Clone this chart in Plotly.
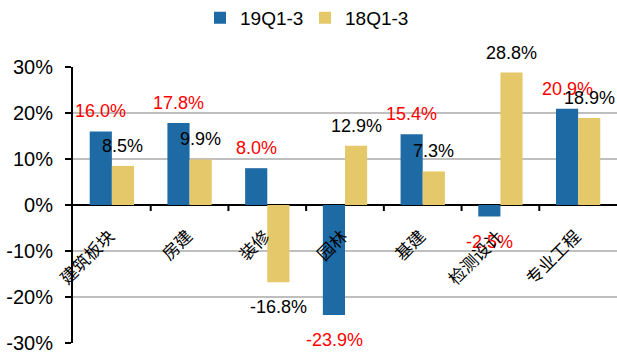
import plotly.graph_objects as go

# Segment categories and year-to-date growth rates (%)
categories = ["建筑板块", "房建", "装修", "园林", "基建", "检测设计", "专业工程"]
growth_19 = [16.0, 17.8, 8.0, -23.9, 15.4, -2.5, 20.9]
growth_18 = [8.5, 9.9, -16.8, 12.9, 7.3, 28.8, 18.9]
series_names = ["19Q1-3", "18Q1-3"]
y_ticks = [-30, -20, -10, 0, 10, 20, 30]
y_tick_text = [f"{t}%" for t in y_ticks]

BLUE = "#1D6AA5"
GOLD = "#E5C86A"
LATIN = "Liberation Sans, Arial, sans-serif"
CJK = "Noto Sans CJK SC, sans-serif"

fig = go.Figure()
fig.add_trace(go.Bar(name=series_names[0], x=categories, y=growth_19,
                     marker=dict(color=BLUE, line=dict(width=0))))
fig.add_trace(go.Bar(name=series_names[1], x=categories, y=growth_18,
                     marker=dict(color=GOLD, line=dict(width=0))))

annotations = []
# value labels above/below each bar
for vals, xs, color in [(growth_19, -11, "#FF0000"), (growth_18, 11, "#000000")]:
    for cat, v in zip(categories, vals):
        annotations.append(dict(
            x=cat, y=v, xref="x", yref="y", text=f"{v:.1f}%",
            showarrow=False, xanchor="center", yanchor="middle",
            xshift=xs, yshift=20 if v >= 0 else -25,
            font=dict(family=LATIN, size=18, color=color)))

# rotated category labels hanging below the zero line
cat_fs = 17
for cat in categories:
    half = len(cat) * cat_fs * 0.354
    annotations.append(dict(
        x=cat, y=0, xref="x", yref="y", text=cat, textangle=-45,
        showarrow=False, xanchor="center", yanchor="middle",
        xshift=-2 - half, yshift=-(27 + half),
        font=dict(family=CJK, size=cat_fs, color="#000000")))

# tick marks on the zero line between categories
shapes = []
for i in range(len(categories) - 1):
    shapes.append(dict(type="line", xref="x", yref="y", x0=i + 0.5, x1=i + 0.5,
                       ysizemode="pixel", yanchor=0, y0=0, y1=-6,
                       line=dict(color="#000000", width=2)))

fig.update_layout(
    width=617, height=354,
    margin=dict(l=73, r=0, t=67, b=11, autoexpand=False),
    paper_bgcolor="white", plot_bgcolor="white",
    barmode="group", bargap=0.43, bargroupgap=0,
    font=dict(family=LATIN, color="#000000"),
    legend=dict(orientation="h", x=(200 - 73) / 544, xanchor="left",
                y=1.178, yanchor="middle",
                font=dict(family=LATIN, size=19, color="#000000"),
                itemwidth=30, entrywidth=60, entrywidthmode="pixels",
                traceorder="normal"),
    annotations=annotations,
    shapes=shapes,
    xaxis=dict(showticklabels=False, showgrid=False, showline=False, ticks="",
               range=[-0.5, 6.5], zeroline=False),
    yaxis=dict(range=[-30, 30], tickmode="array", tickvals=y_ticks, ticktext=y_tick_text,
               tickfont=dict(family=LATIN, size=20, color="#000000"),
               ticklabelstandoff=8,
               showgrid=True, gridcolor="#BFBFBF", gridwidth=1.5,
               zeroline=True, zerolinecolor="#000000", zerolinewidth=2,
               showline=True, linecolor="#000000", linewidth=2,
               ticks="outside", ticklen=6, tickwidth=2, tickcolor="#000000"),
)

fig.write_html("out.html")
